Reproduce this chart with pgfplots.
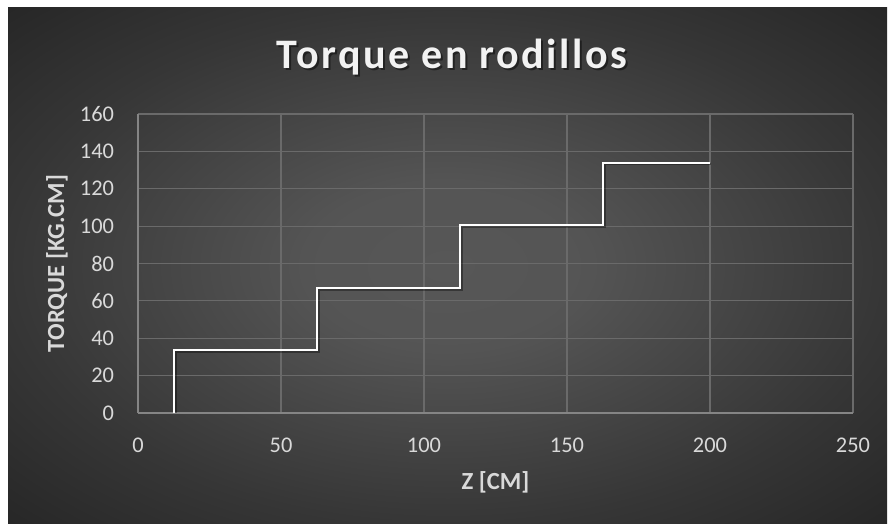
\documentclass[border=0pt]{standalone}
\usepackage{fontspec}
\setmainfont{Carlito}
\usepackage{pgfplots}
\pgfplotsset{compat=1.18}

\definecolor{gridc}{HTML}{6A6A6A}
\definecolor{axc}{HTML}{858585}
\definecolor{txt}{HTML}{D9D9D9}
\definecolor{ttl}{HTML}{F2F2F2}
\definecolor{bgin}{HTML}{575757}
\definecolor{bgmid}{HTML}{363636}
\definecolor{bgout}{HTML}{262626}

% soft radial backdrop of the chart area
\pgfdeclareradialshading{chartbg}{\pgfpoint{0bp}{0bp}}{%
  color(0bp)=(bgin); color(8bp)=(bgin!92!bgmid); color(25bp)=(bgmid);
  color(36bp)=(bgout); color(60bp)=(bgout)}

\begin{document}
\begin{tikzpicture}
  \useasboundingbox (0,0) rectangle (445pt,262pt);
  \fill[white] (0,0) rectangle (445pt,262pt);
  \shade[shading=chartbg] (4pt,0) rectangle (443.5pt,258pt);

  \begin{axis}[
    at={(69pt,55.5pt)}, anchor=south west,
    scale only axis, width=357.5pt, height=149.5pt,
    xmin=0, xmax=250, ymin=0, ymax=160,
    xtick={0,50,...,250}, ytick={0,20,...,160},
    grid=major,
    major grid style={draw=gridc, line width=0.55pt},
    axis x line*=bottom, axis y line*=left,
    axis line style={draw=axc, line width=0.7pt, -},
    tick style={draw=none},
    /pgf/number format/assume math mode=true,
    ticklabel style={font=\fontsize{11.2}{13}\selectfont, text=txt},
    xticklabel style={anchor=center, yshift=-16pt},
    yticklabel style={anchor=east, inner sep=0pt, xshift=-11.8pt},
  ]
    % drop shadow of the step line
    \addplot[black, opacity=0.35, line width=1.4pt, xshift=0.7pt, yshift=-0.7pt]
      coordinates {(12.5,0) (12.5,33.5) (62.5,33.5) (62.5,67) (112.5,67)
                   (112.5,100.5) (162.5,100.5) (162.5,134) (200,134)};
    \addplot[white, line width=1.05pt]
      coordinates {(12.5,0) (12.5,33.5) (62.5,33.5) (62.5,67) (112.5,67)
                   (112.5,100.5) (162.5,100.5) (162.5,134) (200,134)};
  \end{axis}

  % axis titles
  \node[text=txt, font=\bfseries\fontsize{12.3}{14}\selectfont] at (247.75pt,21pt) {Z [CM]};
  \node[text=txt, font=\bfseries\fontsize{12.3}{14}\selectfont, rotate=90] at (28.5pt,130.25pt) {TORQUE [KG.CM]};

  % chart title with a soft shadow
  \node[text=black, opacity=0.45, font=\bfseries\fontsize{21}{25}\selectfont\addfontfeature{LetterSpace=6}]
    at (226.9pt,232.6pt) {Torque en rodillos};
  \node[text=ttl, font=\bfseries\fontsize{21}{25}\selectfont\addfontfeature{LetterSpace=6}]
    at (226pt,233.5pt) {Torque en rodillos};
\end{tikzpicture}
\end{document}
